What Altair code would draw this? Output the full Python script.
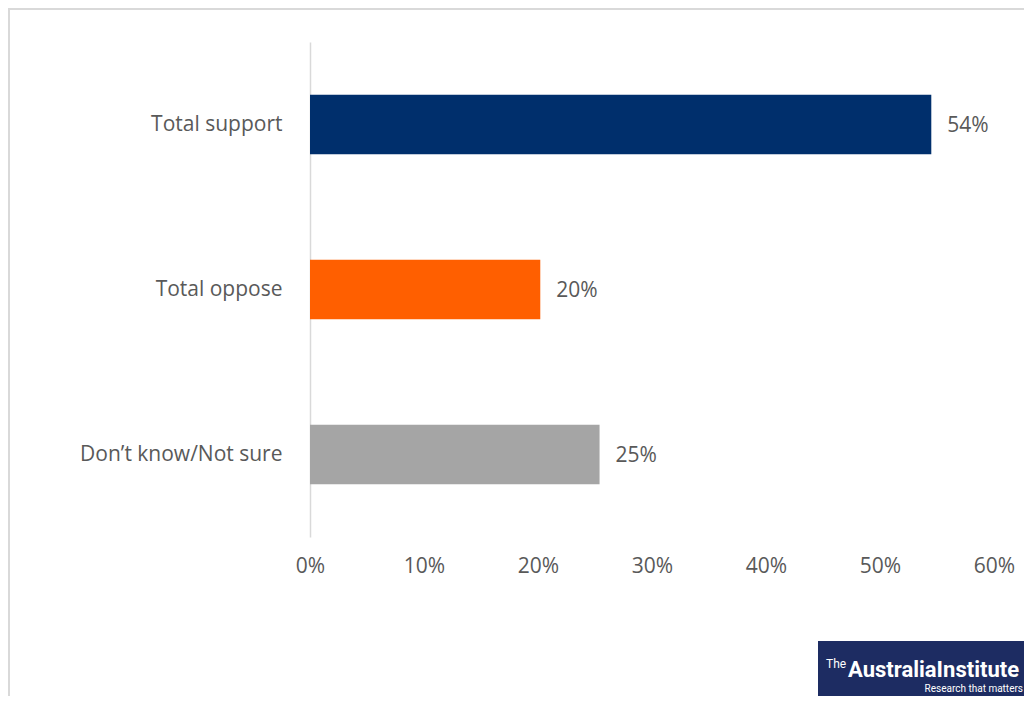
import altair as alt
import pandas as pd

categories = ["Total support", "Total oppose", "Don\u2019t know/Not sure"]
values = [54.5, 20.2, 25.4]
labels = ["54%", "20%", "25%"]
colors = ["#002f6c", "#ff5f00", "#a5a5a5"]
x_ticks = [0, 10, 20, 30, 40, 50, 60]

df = pd.DataFrame({"cat": categories, "val": values, "lab": labels, "col": colors})
one = pd.DataFrame({"d": [0]})

W, H = 684, 495
PL, PT, PR, PB = 302, 34, 30, 159
FONT = "Open Sans"
GREY = "#595959"
FS = 21

y_enc = alt.Y("cat:N", sort=categories,
              scale=alt.Scale(paddingInner=0.64, paddingOuter=0.32),
              axis=alt.Axis(title=None, ticks=False, domain=True, domainColor="#d9d9d9",
                            domainWidth=1.5, labelFont=FONT, labelFontSize=FS,
                            labelColor=GREY, labelPadding=28, grid=False, labelLimit=300))
x_enc = alt.X("val:Q", scale=alt.Scale(domain=[0, 60], nice=False),
              axis=alt.Axis(title=None, values=x_ticks, ticks=False, domain=False, grid=False,
                            labelExpr="datum.value + '%'", labelFont=FONT, labelFontSize=FS,
                            labelColor=GREY, labelPadding=18, labelFlush=False))

bars = alt.Chart(df).mark_bar().encode(
    x=x_enc, y=y_enc,
    color=alt.Color("col:N", scale=None, legend=None),
)

text = alt.Chart(df).mark_text(align="left", baseline="middle", dx=16, dy=1, font=FONT,
                               fontSize=FS, color=GREY).encode(
    x="val:Q", y=alt.Y("cat:N", sort=categories), text="lab:N")

border = alt.Chart(one).mark_rect(fill=None, stroke="#d9d9d9", strokeWidth=2, clip=False).encode(
    x=alt.value(-PL + 1), x2=alt.value(W + PR + 50),
    y=alt.value(-PT + 1), y2=alt.value(H + PB + 50))

logo_bg = alt.Chart(one).mark_rect(fill="#1d2c62", clip=False).encode(
    x=alt.value(818 - 310), x2=alt.value(W + PR + 10),
    y=alt.value(641 - 42), y2=alt.value(H + PB + 10))

logo_the = alt.Chart(one).mark_text(text="The", font="Roboto", fontSize=12,
                                    color="white", align="left", baseline="middle",
                                    clip=False).encode(
    x=alt.value(826 - 310), y=alt.value(664 - 42))

logo_main = alt.Chart(one).mark_text(text="AustraliaInstitute", font="Roboto",
                                     fontSize=22, fontWeight="bold", color="white",
                                     align="left", baseline="middle", clip=False).encode(
    x=alt.value(848 - 310), y=alt.value(670 - 42))

logo_sub = alt.Chart(one).mark_text(text="Research that matters", font="Roboto",
                                    fontSize=10, color="white", align="right",
                                    baseline="middle", clip=False).encode(
    x=alt.value(1023 - 310), y=alt.value(689 - 42))

chart = alt.layer(border, bars, text, logo_bg, logo_the, logo_main, logo_sub).properties(
    width=W, height=H,
    background="white",
    autosize=alt.AutoSizeParams(type="none"),
    padding={"left": PL, "top": PT, "right": PR, "bottom": PB},
).configure_view(strokeWidth=0, stroke=None)

chart.save("out.html", embed_options={"renderer": "svg", "actions": False})
